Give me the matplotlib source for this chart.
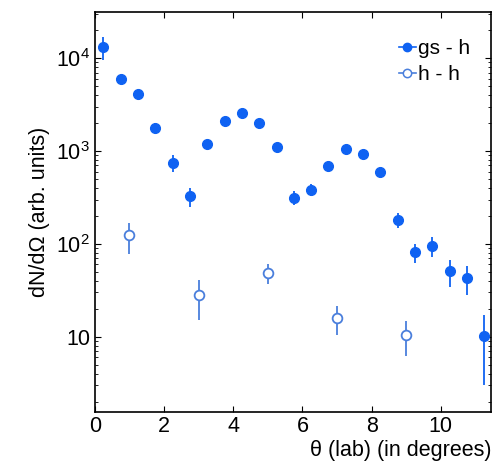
import numpy as np
import matplotlib
matplotlib.use("Agg")
import matplotlib.pyplot as plt
from matplotlib.ticker import LogLocator, FixedLocator, NullFormatter
from matplotlib.lines import Line2D

plt.rcParams['font.family'] = ['Liberation Sans', 'DejaVu Sans']
plt.rcParams['mathtext.fontset'] = 'custom'
plt.rcParams['mathtext.rm'] = 'Liberation Sans'
plt.rcParams['mathtext.it'] = 'Liberation Sans:italic'

# gs - h (filled)
gs_theta = [0.25, 0.75, 1.25, 1.75, 2.25, 2.75, 3.25, 3.75, 4.25, 4.75, 5.25, 5.75,
            6.25, 6.75, 7.25, 7.75, 8.25, 8.75, 9.25, 9.75, 10.25, 10.75, 11.25]
gs_val = [13300, 5900, 4100, 1760, 737, 330, 1200, 2120, 2550, 2020, 1100, 313,
          380, 693, 1040, 920, 589, 179, 81.5, 94.4, 50.8, 43, 10.1]
gs_lo = [9600, 5500, 3800, 1550, 600, 251, 1120, 2000, 2420, 1900, 1030, 265,
         330, 650, 990, 870, 555, 147, 61.6, 72.5, 34.4, 28.4, 3.0]
gs_hi = [17100, 6300, 4400, 2000, 900, 402, 1280, 2250, 2680, 2150, 1170, 370,
         440, 740, 1090, 970, 625, 214, 100, 119, 66.8, 57.5, 17.0]

# h - h (open)
hh_theta = [1, 3, 5, 7, 9]
hh_val = [124, 28, 49, 15.9, 10.4]
hh_lo = [77, 15.3, 37.4, 10.4, 6.15]
hh_hi = [169, 40.6, 60, 21.3, 14.7]

c_fill = '#0f62f2'
c_open = '#4a7fdc'

fig = plt.figure(figsize=(4.94, 4.72), dpi=100)
ax = fig.add_axes([0.192, 0.128, 0.802, 0.847])

gv = np.array(gs_val)
ax.errorbar(gs_theta, gv, yerr=[gv - np.array(gs_lo), np.array(gs_hi) - gv],
            fmt='o', color=c_fill, ms=7, elinewidth=1.3, capsize=0)
hv = np.array(hh_val)
ax.errorbar(hh_theta, hv, yerr=[hv - np.array(hh_lo), np.array(hh_hi) - hv],
            fmt='o', color=c_open, mfc='white', mec=c_open, mew=1.3, ms=7,
            elinewidth=1.3, capsize=0)

ax.set_yscale('log')
ax.set_xlim(0, 11.45)
ax.set_ylim(1.56, 3.16e4)

ax.xaxis.set_major_locator(FixedLocator([0, 2, 4, 6, 8, 10]))
ax.yaxis.set_major_locator(FixedLocator([10, 100, 1000, 10000]))
ax.yaxis.set_minor_locator(LogLocator(base=10, subs=np.arange(2, 10)))
ax.yaxis.set_minor_formatter(NullFormatter())
ax.set_yticklabels(['10', r'$10^2$', r'$10^3$', r'$10^4$'])

ax.tick_params(which='both', direction='in', top=True, right=True, labelsize=15.5)
ax.tick_params(which='major', length=4, width=0.8)
ax.tick_params(which='minor', length=2.5, width=0.6)
for s in ax.spines.values():
    s.set_linewidth(1.2)

ax.set_xlabel('θ (lab) (in degrees)', fontsize=15.5, loc='right', labelpad=2)
ax.set_ylabel('dN/dΩ (arb. units)', fontsize=15.5, labelpad=4)

handles = [
    Line2D([], [], color=c_fill, marker='o', ms=6, lw=1.2),
    Line2D([], [], color=c_open, marker='o', ms=6, mfc='white', mew=1.1, lw=1.2),
]
ax.legend(handles, ['gs - h', 'h - h'], loc='upper right', frameon=False,
          fontsize=15, handlelength=0.8, handletextpad=0.1,
          borderaxespad=0.9, labelspacing=0.35,
          bbox_to_anchor=(1.015, 1.0))

fig.savefig('out.png', dpi=100)
